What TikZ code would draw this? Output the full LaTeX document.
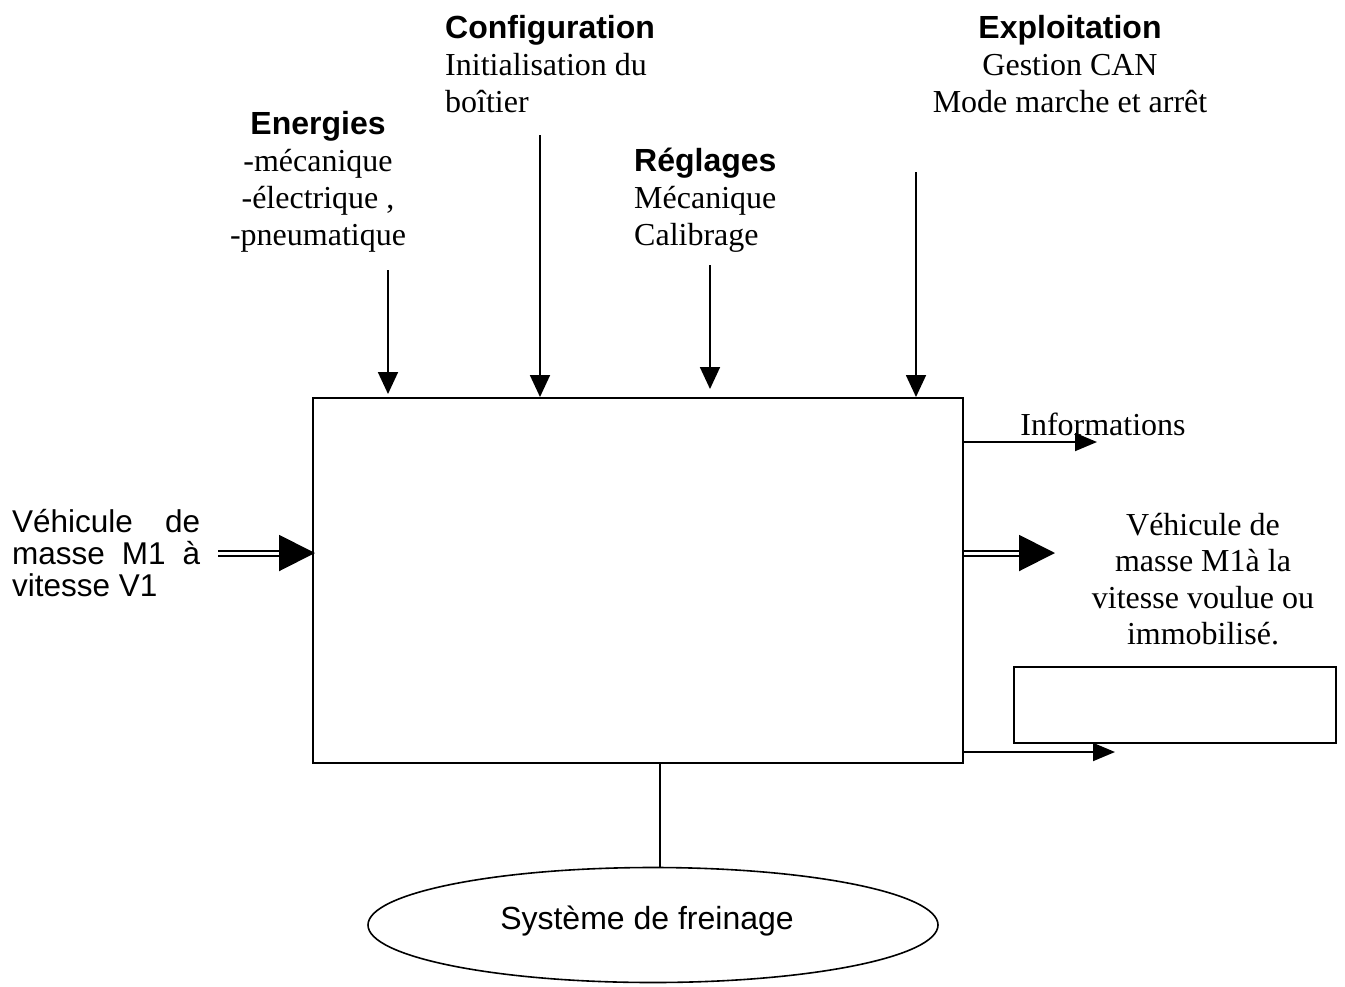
\documentclass[tikz,border=0pt]{standalone}
\usepackage{fontspec}
\setmainfont{Liberation Serif}
\setsansfont{Liberation Sans}
\usetikzlibrary{arrows.meta,shapes.geometric}
\begin{document}
\begin{tikzpicture}[x=1pt,y=-1pt,
  block/.style={inner sep=0pt, font=\fontsize{32}{37}\selectfont},
  sanstext/.style={inner sep=0pt, font=\sffamily\fontsize{31.5}{32}\selectfont},
  frame/.style={draw, line width=2pt, inner sep=0pt},
  toparrow/.style={line width=1.8pt, -{Triangle[width=20pt,length=22pt]}},
  sidearrow/.style={line width=1.8pt, -{Triangle[width=18pt,length=22pt]}},
  dblarrow/.style={double, line width=2pt, double distance=3pt, -{Triangle[width=36pt,length=36pt]}}
]
\useasboundingbox (0,0) rectangle (1345,986);

% text blocks on top
\node[block, align=center, anchor=north] (energ) at (318,111)
  {{\sffamily\bfseries Energies}\\-mécanique\\-électrique ,\\-pneumatique};
\node[block, align=left, anchor=north west] (conf) at (445,15)
  {{\sffamily\bfseries Configuration}\\Initialisation du\\boîtier};
\node[block, align=left, anchor=north west] (regl) at (634,148)
  {{\sffamily\bfseries Réglages}\\Mécanique\\Calibrage};
\node[block, align=center, anchor=north] (expl) at (1070,15)
  {{\sffamily\bfseries Exploitation}\\Gestion CAN\\Mode marche et arrêt};

% main box
\node[frame, minimum width=650, minimum height=365, anchor=north west] (box) at (312,397) {};

% top arrows
\coordinate (a1) at (388,270);
\coordinate (a2) at (540,135);
\coordinate (a3) at (710,265);
\coordinate (a4) at (916,172);
\draw[toparrow, shorten >=3pt] (a1) -- (a1 |- box.north);
\draw[toparrow] (a2) -- (a2 |- box.north);
\draw[toparrow, shorten >=8pt] (a3) -- (a3 |- box.north);
\draw[toparrow] (a4) -- (a4 |- box.north);

% left input
\node[sanstext, align=left, anchor=north west] (vin) at (12,509)
  {\makebox[188pt][s]{Véhicule de}\\\makebox[188pt][s]{masse M1 à}\\vitesse V1};
\coordinate (vinstart) at (218,553);
\draw[dblarrow, shorten >=-3pt] (vinstart) -- (vinstart -| box.west);

% right outputs
\node[block, anchor=center] (info) at (1103,424) {Informations};
\coordinate (infoend) at (1097,442);
\draw[sidearrow] (infoend -| box.east) -- (infoend);

\coordinate (voutend) at (1055,553);
\draw[dblarrow] (voutend -| box.east) -- (voutend);
\node[block, font=\fontsize{32}{36.5}\selectfont, align=center] (vout) at (1203,579)
  {Véhicule de\\masse M1à la\\vitesse voulue ou\\immobilisé.};

\node[frame, minimum width=322, minimum height=76, anchor=north west] (ebox) at (1013,666) {};
\coordinate (botend) at (1115,752);
\draw[sidearrow] (botend -| box.east) -- (botend);

% bottom ellipse
\node[draw, ellipse, line width=1.6pt, minimum width=570, minimum height=115, inner sep=0pt] (ell) at (653,925) {};
\node[inner sep=0pt, font=\sffamily\fontsize{32}{32}\selectfont] (ellt) at (647,921) {Système de freinage};
\coordinate (vlink) at (660,762);
\draw[line width=1.6pt] (vlink) -- (vlink |- ell.north);
\end{tikzpicture}
\end{document}
